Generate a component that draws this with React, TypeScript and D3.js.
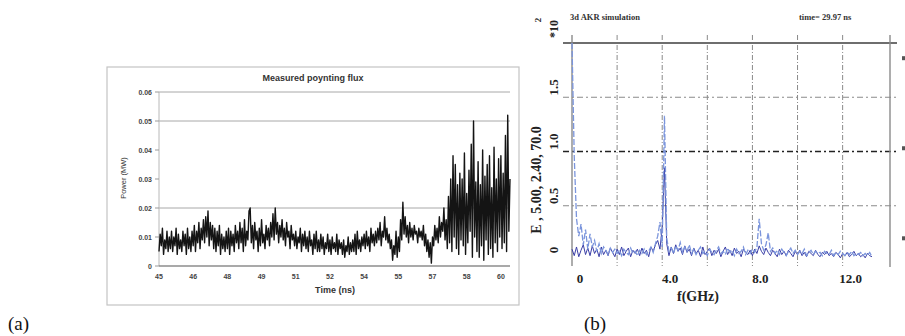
import React from "react";
import * as d3 from "d3";

// ---- (a) measured poynting flux ----
const fluxTimeStart = 45;
const fluxTimeStep = 0.05;
// power in units of 0.001 MW, one sample per 0.05 ns
const fluxPower = [
  5, 11, 7, 13, 4, 9, 6, 12, 5, 10,
  6, 12, 5, 10, 7, 13, 4, 11, 6, 9,
  5, 12, 7, 11, 4, 13, 6, 10, 5, 12,
  7, 14, 5, 12, 8, 15, 6, 13, 9, 16,
  8, 17, 10, 19, 7, 15, 9, 14, 6, 13,
  5, 12, 7, 14, 4, 11, 6, 10, 5, 12,
  6, 13, 4, 12, 7, 11, 5, 14, 8, 12,
  6, 15, 8, 13, 5, 16, 7, 12, 9, 19,
  20, 8, 14, 6, 15, 9, 12, 5, 13, 7,
  16, 8, 11, 6, 14, 9, 13, 7, 15, 10,
  18, 9, 20, 11, 15, 8, 14, 10, 16, 9,
  13, 7, 15, 10, 12, 6, 14, 9, 11, 7,
  12, 6, 10, 8, 13, 5, 11, 7, 12, 6,
  10, 5, 12, 7, 9, 4, 11, 6, 12, 5,
  9, 5, 11, 6, 10, 4, 8, 6, 11, 5,
  9, 4, 10, 6, 8, 5, 11, 4, 9, 6,
  8, 4, 9, 3, 7, 5, 10, 4, 8, 5,
  9, 5, 11, 4, 12, 6, 9, 5, 10, 7,
  11, 6, 12, 7, 10, 5, 13, 8, 11, 7,
  12, 8, 13, 9, 15, 7, 12, 10, 17, 9,
  13, 8, 11, 6, 9, 2, 7, 4, 12, 3,
  10, 5, 16, 9, 22, 11, 17, 10, 14, 8,
  15, 10, 13, 9, 14, 11, 12, 8, 13, 10,
  12, 9, 14, 7, 11, 5, 9, 3, 8, 1,
  10, 7, 14, 9, 13, 8, 17, 10, 15, 12,
  20, 9, 16, 6, 24, 8, 30, 5, 38, 10,
  35, 6, 28, 4, 32, 9, 30, 7, 39, 4,
  25, 8, 33, 12, 42, 3, 50, 10, 29, 5,
  36, 3, 28, 7, 40, 2, 31, 9, 35, 4,
  38, 6, 27, 3, 41, 8, 30, 5, 37, 10,
  38, 6, 32, 8, 45, 5, 52, 12, 30,
];
const fluxXTicks = [45, 46.5, 48, 49.5, 51, 52.5, 54, 55.5, 57, 58.5, 60];
const fluxXTickLabels = ["45", "46", "48", "49", "51", "52", "54", "55", "57", "58", "60"];
const fluxYTicks = [0, 0.01, 0.02, 0.03, 0.04, 0.05, 0.06];
const fluxYTickLabels = ["0", "0.01", "0.02", "0.03", "0.04", "0.05", "0.06"];
const fluxGrid = [0.02, 0.05, 0.06];

// ---- (b) 3d AKR simulation spectrum ----
const specStep = 0.1;
// E in units of 0.01 (x10^2 axis), one sample per 0.1 GHz
const specLight = [
  200, 95, 38, 22, 33, 14, 28, 10, 24, 12,
  18, 8, 15, 6, 12, 9, 5, 11, 7, 10,
  6, 9, 4, 10, 7, 5, 11, 6, 8, 4,
  9, 6, 10, 5, 8, 12, 7, 15, 22, 35,
  12, 133, 20, 8, 11, 6, 13, 9, 16, 7,
  12, 8, 14, 6, 10, 5, 9, 12, 6, 8,
  4, 10, 7, 5, 9, 12, 6, 8, 5, 11,
  7, 9, 4, 10, 6, 8, 12, 5, 9, 6,
  10, 7, 12, 38, 15, 9, 14, 25, 8, 11,
  6, 9, 5, 10, 7, 4, 8, 11, 6, 9,
  5, 8, 6, 10, 4, 7, 9, 5, 8, 6,
  7, 4, 8, 6, 5, 9, 4, 7, 5, 8,
  6, 4, 7, 5, 8, 4, 6, 5, 7, 4,
  6, 4, 7, 3,
];
const specDark = [
  10, 4, 12, 3, 9, 14, 5, 11, 4, 13,
  6, 10, 3, 12, 5, 9, 4, 11, 7, 3,
  10, 5, 12, 4, 8, 11, 3, 9, 6, 10,
  4, 11, 6, 9, 3, 12, 8, 14, 18, 10,
  30, 85, 15, 4, 12, 6, 14, 8, 11, 5,
  13, 7, 10, 4, 11, 6, 9, 3, 12, 5,
  8, 11, 4, 9, 6, 10, 3, 8, 12, 5,
  9, 4, 11, 6, 8, 3, 10, 7, 5, 9,
  4, 10, 6, 13, 8, 5, 11, 7, 4, 9,
  6, 3, 10, 5, 8, 4, 9, 6, 3, 8,
  5, 9, 4, 7, 3, 8, 6, 4, 9, 5,
  3, 7, 5, 8, 4, 6, 3, 7, 5, 2,
  6, 4, 7, 3, 5, 8, 4, 6, 3, 5,
  2, 6, 4, 3,
];
const specXTicks = [0, 4, 8, 12];
const specXTickLabels = ["0", "4.0", "8.0", "12.0"];
const specGridX = [2, 4, 6, 8, 10, 12];
const specYTicks = [0, 0.5, 1.0, 1.5];
const specYTickLabels = ["0", "0.5", "1.0", "1.5"];
// cut-off marks at the right edge of panel (b)
const specEdgeMarks = [1.86, 1.03, 0.2];

const sans = "'Liberation Sans', Arial, sans-serif";
const serif = "'Liberation Serif', 'Times New Roman', serif";

const FluxPanel = () => {
  const x = d3.scaleLinear().domain([45, 60.4]).range([159, 510]);
  const y = d3.scaleLinear().domain([0, 0.06]).range([266, 92]);
  const line = d3
    .line<number>()
    .x((d, i) => x(fluxTimeStart + i * fluxTimeStep))
    .y((d) => y(d / 1000));

  return (
    <g fontFamily={sans}>
      <rect x={107} y={67} width={412} height={238} fill="#fff" stroke="#c4c4c4" strokeWidth={1.2} />
      {fluxGrid.map((g) => (
        <line key={g} x1={x.range()[0]} x2={x.range()[1]} y1={y(g)} y2={y(g)} stroke="#a8a8a8" strokeWidth={1} />
      ))}
      <line x1={x.range()[0]} x2={x.range()[0]} y1={y(0.06)} y2={y(0)} stroke="#b8b8b8" />
      {fluxYTicks.map((t, i) => (
        <g key={t}>
          <line x1={155} x2={159} y1={y(t)} y2={y(t)} stroke="#999" />
          <text x={152} y={y(t) + 2.5} textAnchor="end" fontSize={7} fontWeight="bold" fill="#444">
            {fluxYTickLabels[i]}
          </text>
        </g>
      ))}
      <path d={line(fluxPower) || ""} fill="none" stroke="#141414" strokeWidth={1.4} strokeLinejoin="round" />
      <line x1={x.range()[0]} x2={x.range()[1]} y1={y(0)} y2={y(0)} stroke="#8c8c8c" strokeWidth={1.6} />
      {fluxXTicks.map((t, i) => (
        <text key={t} x={x(t)} y={279} textAnchor="middle" fontSize={7} fontWeight="bold" fill="#444">
          {fluxXTickLabels[i]}
        </text>
      ))}
      <text x={313} y={81} textAnchor="middle" fontSize={9} fontWeight="bold" fill="#333">
        Measured poynting flux
      </text>
      <text x={335} y={293} textAnchor="middle" fontSize={9} fontWeight="bold" fill="#333">
        Time (ns)
      </text>
      <text transform="translate(126,178) rotate(-90)" textAnchor="middle" fontSize={7.5} fill="#333">
        Power (MW)
      </text>
    </g>
  );
};

const SpectrumPanel = () => {
  const x = d3.scaleLinear().domain([0, 14.1]).range([572, 890]);
  const y = d3.scaleLinear().domain([0, 2]).range([260, 43]);
  const line = d3
    .line<number>()
    .x((d, i) => x(i * specStep))
    .y((d) => y(d / 100));
  const top = 35;
  const bottom = 266;

  return (
    <g fontFamily={serif}>
      {specGridX.map((g) => (
        <line key={g} x1={x(g)} x2={x(g)} y1={top} y2={bottom} stroke="#8a8a8a" strokeDasharray="5,2,1,2" />
      ))}
      {specYTicks.filter((t) => t > 0).map((t) => (
        <line
          key={t}
          x1={563}
          x2={897}
          y1={y(t)}
          y2={y(t)}
          stroke={t === 1 ? "#222" : "#8a8a8a"}
          strokeWidth={t === 1 ? 1.4 : 1}
          strokeDasharray="6,3,2,3"
        />
      ))}
      <line x1={563} x2={897} y1={y(2)} y2={y(2)} stroke="#6e6e6e" strokeWidth={1.8} />
      <line x1={x(0)} x2={x(0)} y1={top} y2={bottom} stroke="#8a8a8a" strokeWidth={1.4} />
      <line x1={x(14.1)} x2={x(14.1)} y1={top} y2={bottom + 1} stroke="#8a8a8a" strokeWidth={1.4} />
      <path d={line(specDark) || ""} fill="none" stroke="#3a3ea6" strokeWidth={1} />
      <path d={line(specLight) || ""} fill="none" stroke="#7b95dc" strokeWidth={1.3} strokeDasharray="6,2" />
      {specYTicks.map((t, i) => (
        <text
          key={t}
          transform={`translate(558,${y(t) - 10}) rotate(-90)`}
          textAnchor="middle"
          fontSize={13}
          fontWeight="bold"
          fill="#222"
        >
          {specYTickLabels[i]}
        </text>
      ))}
      <text transform="translate(558,29) rotate(-90)" textAnchor="middle" fontSize={12} fontWeight="bold" fill="#222">
        *10
      </text>
      <text transform="translate(541,20) rotate(-90)" textAnchor="middle" fontSize={9} fontWeight="bold" fill="#222">
        2
      </text>
      <text transform="translate(541,180) rotate(-90)" textAnchor="middle" fontSize={14} fontWeight="bold" fill="#222">
        E , 5.00, 2.40, 70.0
      </text>
      {specXTicks.map((t, i) => (
        <text key={t} x={x(t) + 8} y={283} textAnchor="middle" fontSize={13} fontWeight="bold" fill="#222">
          {specXTickLabels[i]}
        </text>
      ))}
      <text x={698} y={301} textAnchor="middle" fontSize={14} fontWeight="bold" fill="#222">
        f(GHz)
      </text>
      <text x={570} y={20} fontSize={8.5} fontWeight="bold" fill="#333">
        3d AKR simulation
      </text>
      <text x={799} y={20} fontSize={8.5} fontWeight="bold" fill="#333">
        time= 29.97 ns
      </text>
      {specEdgeMarks.map((v) => (
        <rect key={v} x={902} y={y(v) - 2} width={3} height={4} fill="#555" />
      ))}
    </g>
  );
};

export default function App() {
  return (
    <svg
      width={905}
      height={336}
      style={{ position: "absolute", left: 0, top: 0, background: "#fff" }}
    >
      <FluxPanel />
      <SpectrumPanel />
      <text x={8} y={330} fontFamily={serif} fontSize={19} fill="#111">
        (a)
      </text>
      <text x={584} y={330} fontFamily={serif} fontSize={19} fill="#111">
        (b)
      </text>
    </svg>
  );
}
